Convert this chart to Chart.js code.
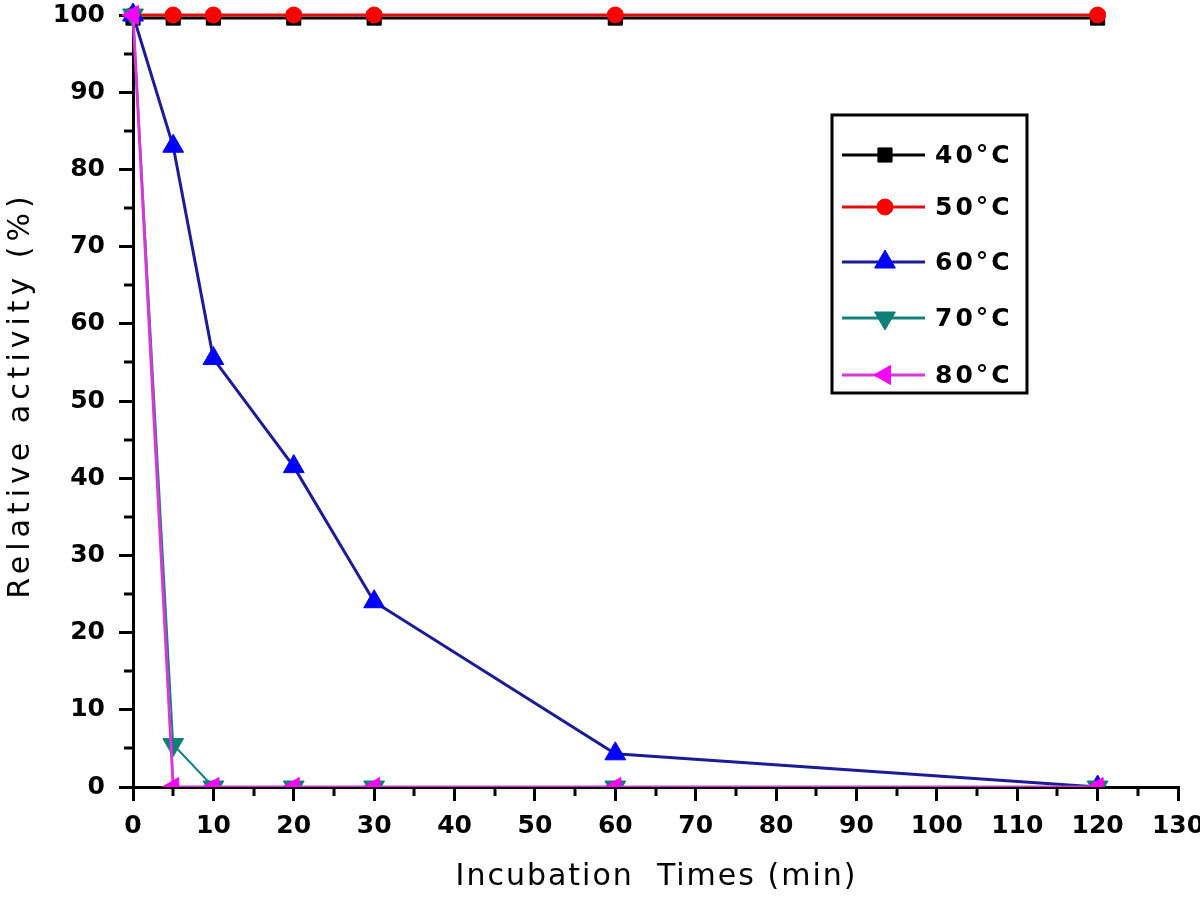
<!DOCTYPE html>
<html>
<head>
<meta charset="utf-8">
<script src="https://cdn.jsdelivr.net/npm/chart.js@4.4.1/dist/chart.umd.min.js"></script>
<style>
    html, body { margin: 0; padding: 0; background: #fff; }
    #chart-item { display: block; }
</style>
</head>
<body>
<canvas id="chart-item" width="1200" height="906"></canvas>
<script>
// incubation times (min)
var times = [0, 5, 10, 20, 30, 60, 120];

// relative activity (%) per temperature
var act40 = [99.6, 99.6, 99.6, 99.6, 99.6, 99.6, 99.6];
var act50 = [100, 100, 100, 100, 100, 100, 100];
var act60 = [100, 83, 55.5, 41.5, 24, 4.3, 0];
var act70 = [100, 5.5, 0, 0, 0, 0, 0];
var act80 = [100, 0, 0, 0, 0, 0, 0];

var seriesLabels = ['40°C', '50°C', '60°C', '70°C', '80°C'];

var xTicks = [0, 10, 20, 30, 40, 50, 60, 70, 80, 90, 100, 110, 120, 130];
var yTicks = [0, 10, 20, 30, 40, 50, 60, 70, 80, 90, 100];

var xTitle = 'Incubation  Times (min)';
var yTitle = 'Relative activity (%)';

var FONT = '"DejaVu Sans", sans-serif';

function toPoints(values) {
    var pts = [];
    for (var i = 0; i < times.length; i++) {
        pts.push({x: times[i], y: values[i]});
    }
    return pts;
}

function makeDataset(label, values, lineColor, pointColor, style, rotation, radius, width, order) {
    return {
        label: label,
        data: toPoints(values),
        borderColor: lineColor,
        backgroundColor: pointColor,
        pointBackgroundColor: pointColor,
        pointBorderColor: pointColor,
        pointBorderWidth: 1,
        pointStyle: style,
        pointRotation: rotation,
        pointRadius: radius,
        borderWidth: width,
        tension: 0,
        order: order,
        clip: {left: 20, top: 20, right: 20, bottom: 0}
    };
}

// minor ticks, axis titles and the boxed legend
var extrasPlugin = {
    id: 'extras',
    afterDraw: function (chart) {
        var ctx = chart.ctx;
        var xs = chart.scales.x, ys = chart.scales.y;
        var area = chart.chartArea;

        ctx.save();
        ctx.strokeStyle = '#000';
        ctx.lineWidth = 3;
        var v;
        for (v = 5; v < 130; v += 10) {
            var px = Math.round(xs.getPixelForValue(v));
            ctx.beginPath();
            ctx.moveTo(px, area.bottom);
            ctx.lineTo(px, area.bottom + 9);
            ctx.stroke();
        }
        for (v = 5; v < 100; v += 10) {
            var py = Math.round(ys.getPixelForValue(v));
            ctx.beginPath();
            ctx.moveTo(area.left, py);
            ctx.lineTo(area.left - 9, py);
            ctx.stroke();
        }

        // axis titles
        ctx.fillStyle = '#000';
        ctx.font = '30px ' + FONT;
        ctx.textAlign = 'center';
        ctx.textBaseline = 'middle';
        ctx.letterSpacing = '2px';
        ctx.fillText(xTitle, (area.left + area.right) / 2 + 1, 877);

        ctx.save();
        ctx.translate(21, 395);
        ctx.rotate(-Math.PI / 2);
        ctx.letterSpacing = '5px';
        ctx.font = '30px ' + FONT;
        ctx.fillText(yTitle, 0, 0);
        ctx.restore();

        // legend box
        var bx = 832, by = 115, bw = 195, bh = 278;
        ctx.lineWidth = 3;
        ctx.strokeStyle = '#000';
        ctx.strokeRect(bx, by, bw, bh);

        var rowY = [155, 207, 262, 318, 375];
        ctx.font = 'bold 25px ' + FONT;
        ctx.textAlign = 'left';
        ctx.letterSpacing = '3px';
        chart.data.datasets.forEach(function (ds, i) {
            var y = rowY[i];
            ctx.beginPath();
            ctx.strokeStyle = ds.borderColor;
            ctx.lineWidth = 3;
            ctx.moveTo(842, y);
            ctx.lineTo(925, y);
            ctx.stroke();
            ctx.fillStyle = ds.pointBackgroundColor;
            ctx.strokeStyle = ds.pointBorderColor;
            ctx.lineWidth = 1;
            Chart.helpers.drawPoint(ctx, {
                pointStyle: ds.pointStyle,
                rotation: ds.pointRotation,
                radius: ds.pointRadius,
                borderWidth: 1
            }, 885, y);
            ctx.fillStyle = '#000';
            ctx.fillText(ds.label, 935, y + 1);
        });
        ctx.restore();
    }
};

var ctx = document.getElementById('chart-item').getContext('2d');
var chart = new Chart(ctx, {
    type: 'line',
    data: {
        datasets: [
            makeDataset(seriesLabels[0], act40, '#000000', '#000000', 'rect', 0, 10, 3, 5),
            makeDataset(seriesLabels[1], act50, '#e01010', '#ff0000', 'circle', 0, 8, 3, 4),
            makeDataset(seriesLabels[2], act60, '#1c1c96', '#0000ff', 'triangle', 0, 12, 3, 3),
            makeDataset(seriesLabels[3], act70, '#13827a', '#0e7f78', 'triangle', 180, 12, 2, 2),
            makeDataset(seriesLabels[4], act80, '#d838d8', '#ff00ff', 'triangle', -90, 11, 3, 1)
        ]
    },
    options: {
        responsive: false,
        animation: false,
        layout: {
            padding: {left: 0, right: 22, top: 15, bottom: 0}
        },
        plugins: {
            legend: {display: false},
            tooltip: {enabled: false}
        },
        scales: {
            x: {
                type: 'linear',
                min: 0,
                max: 130,
                afterBuildTicks: function (scale) {
                    scale.ticks = xTicks.map(function (t) { return {value: t}; });
                },
                afterFit: function (scale) {
                    scale.height = 119;
                    scale.paddingLeft = 0;
                    scale.paddingRight = 0;
                },
                border: {display: true, color: '#000', width: 3},
                grid: {
                    drawOnChartArea: false,
                    drawTicks: true,
                    tickLength: 14,
                    color: '#000',
                    lineWidth: 3
                },
                ticks: {
                    color: '#000',
                    padding: 10,
                    maxRotation: 0,
                    autoSkip: false,
                    font: {family: FONT, size: 25, weight: 'bold'}
                }
            },
            y: {
                type: 'linear',
                min: 0,
                max: 100,
                afterBuildTicks: function (scale) {
                    scale.ticks = yTicks.map(function (t) { return {value: t}; });
                },
                afterFit: function (scale) {
                    scale.width = 133;
                    scale.paddingTop = 0;
                    scale.paddingBottom = 0;
                },
                border: {display: true, color: '#000', width: 3},
                grid: {
                    drawOnChartArea: false,
                    drawTicks: true,
                    tickLength: 14,
                    color: '#000',
                    lineWidth: 3
                },
                ticks: {
                    color: '#000',
                    padding: 14,
                    autoSkip: false,
                    font: {family: FONT, size: 25, weight: 'bold'}
                }
            }
        }
    },
    plugins: [extrasPlugin]
});
</script>
</body>
</html>
